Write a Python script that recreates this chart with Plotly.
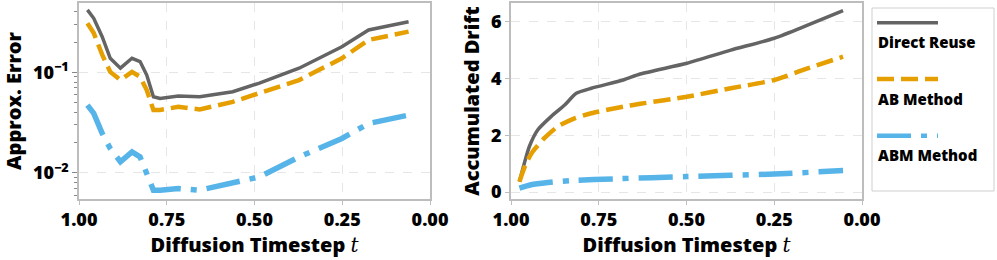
import plotly.graph_objects as go

# ---------------- data ----------------
t_err = [0.976, 0.958, 0.934, 0.911, 0.882, 0.849, 0.826, 0.807, 0.788, 0.769,
         0.717, 0.656, 0.562, 0.486, 0.373, 0.251, 0.175, 0.061]
err_direct = [0.418, 0.345, 0.226, 0.138, 0.110, 0.138, 0.128, 0.094, 0.0571, 0.0551,
              0.0581, 0.0571, 0.0641, 0.0782, 0.110, 0.180, 0.264, 0.319]
err_ab = [0.308, 0.246, 0.150, 0.101, 0.0838, 0.101, 0.0904, 0.0667, 0.0422, 0.0422,
          0.0454, 0.0428, 0.0509, 0.0618, 0.0838, 0.138, 0.210, 0.254]
err_abm = [0.0472, 0.0391, 0.0247, 0.0175, 0.0129, 0.0162, 0.0144, 0.0102, 0.00673, 0.00673,
           0.00700, 0.00673, 0.00783, 0.00912, 0.0144, 0.0220, 0.0310, 0.0376]

t_drift_direct = [0.976, 0.962, 0.948, 0.924, 0.886, 0.847, 0.814, 0.771, 0.680, 0.632,
                  0.499, 0.374, 0.250, 0.155, 0.054]
drift_direct = [0.37, 1.02, 1.60, 2.19, 2.66, 3.07, 3.48, 3.66, 3.95, 4.16,
                4.54, 5.00, 5.42, 5.88, 6.39]
t_drift_ab = [0.976, 0.957, 0.938, 0.905, 0.867, 0.819, 0.771, 0.680, 0.632, 0.499,
              0.374, 0.250, 0.155, 0.054]
drift_ab = [0.37, 1.02, 1.43, 1.90, 2.31, 2.60, 2.78, 3.01, 3.11, 3.36,
            3.66, 3.95, 4.36, 4.77]
t_drift_abm = [0.976, 0.943, 0.895, 0.828, 0.704, 0.499, 0.250, 0.054]
drift_abm = [0.14, 0.26, 0.34, 0.41, 0.47, 0.55, 0.64, 0.76]

series_names = ["Direct Reuse", "AB Method", "ABM Method"]
colors = ["#646464", "#E69F00", "#56B4E9"]
dashes = ["solid", "17px,7px", "34px,10px,6px,10px"]
widths = [3.5, 4.5, 5.5]

x_ticks = [1.0, 0.75, 0.5, 0.25, 0.0]
x_ticktext = ["1.00", "0.75", "0.50", "0.25", "0.00"]
err_ticks = [0.01, 0.1]
err_ticktext = ["10<sup>−2</sup>", "10<sup>−1</sup>"]
drift_ticks = [0, 2, 4, 6]

# ---------------- figure ----------------
W, H = 997, 260
FONT = "Open Sans"
fig = go.Figure()

for name, ys, c, d, w in zip(series_names, [err_direct, err_ab, err_abm], colors, dashes, widths):
    fig.add_trace(go.Scatter(x=t_err, y=ys, mode="lines", name=name, showlegend=False,
                             line=dict(color=c, dash=d, width=w), xaxis="x", yaxis="y"))
for name, xs, ys, c, d, w in zip(series_names, [t_drift_direct, t_drift_ab, t_drift_abm],
                                 [drift_direct, drift_ab, drift_abm], colors, dashes, widths):
    fig.add_trace(go.Scatter(x=xs, y=ys, mode="lines", name=name, showlegend=False,
                             line=dict(color=c, dash=d, width=w, shape="spline", smoothing=0.6),
                             xaxis="x2", yaxis="y2"))

tickfont = dict(family=FONT, size=18, color="black", weight=800)
titlefont = dict(family=FONT, size=20, color="black", weight=800)
frame = dict(showline=True, mirror=True, linecolor="#bdbdbd", linewidth=1.5,
             showgrid=True, gridcolor="#e6e6e6", griddash="dash", gridwidth=1,
             zeroline=False, tickfont=tickfont, automargin=False)
xtitle = dict(text="Diffusion Timestep <span style='font-family:DejaVu Serif;font-weight:normal'><i>t</i></span>",
              font=titlefont, standoff=4)

ydom = [1 - 199 / H, 1 - 3 / H]
minor_vals = [v * 10 ** e for e in (-3, -2, -1) for v in range(2, 10)]

fig.update_layout(
    width=W, height=H, margin=dict(l=0, r=0, t=0, b=0),
    paper_bgcolor="white", plot_bgcolor="white",
    xaxis=dict(domain=[79 / W, 430 / W], range=[1.0, 0.0], tickvals=x_ticks, ticktext=x_ticktext,
               ticks="outside", ticklen=4, tickcolor="#bdbdbd", anchor="y", title=xtitle, **frame),
    yaxis=dict(domain=ydom, type="log", range=[-2.26, -0.31], tickvals=err_ticks, ticktext=err_ticktext,
               ticks="outside", ticklen=5, tickcolor="#888", anchor="x",
               minor=dict(tickvals=minor_vals, ticks="outside", ticklen=3, tickcolor="#888", showgrid=False),
               title=dict(text="Approx. Error", font=titlefont, standoff=6), **frame),
    xaxis2=dict(domain=[511 / W, 862 / W], range=[1.0, 0.0], tickvals=x_ticks, ticktext=x_ticktext,
                ticks="outside", ticklen=4, tickcolor="#bdbdbd", anchor="y2", title=xtitle, **frame),
    yaxis2=dict(domain=ydom, range=[-0.24, 6.66], tickvals=drift_ticks, ticks="outside", ticklen=4,
                tickcolor="#bdbdbd", anchor="x2",
                title=dict(text="Accumulated Drift", font=titlefont, standoff=6), **frame),
)

# ---------------- legend (line sample above label) ----------------
fig.add_shape(type="rect", xref="paper", yref="paper",
              x0=872 / W, x1=994 / W, y0=1 - 191 / H, y1=1 - 8 / H,
              line=dict(color="#cfcfcf", width=1), fillcolor="white", layer="above")
leg_line_y = [22.7, 79, 135.7]
leg_text_y = [42.3, 99, 155]
for name, c, d, w, ly, ty in zip(series_names, colors, dashes, widths, leg_line_y, leg_text_y):
    fig.add_shape(type="line", xref="paper", yref="paper",
                  x0=877 / W, x1=938 / W, y0=1 - ly / H, y1=1 - ly / H,
                  line=dict(color=c, dash=d, width=min(w, 4.5)), layer="above")
    fig.add_annotation(xref="paper", yref="paper", x=876 / W, y=1 - ty / H,
                       xanchor="left", yanchor="middle", showarrow=False, text=name,
                       font=dict(family=FONT, size=15, color="black", weight=800))

fig.write_html("out.html", config={"displayModeBar": False},
               post_script="document.body.style.margin='0px';")
